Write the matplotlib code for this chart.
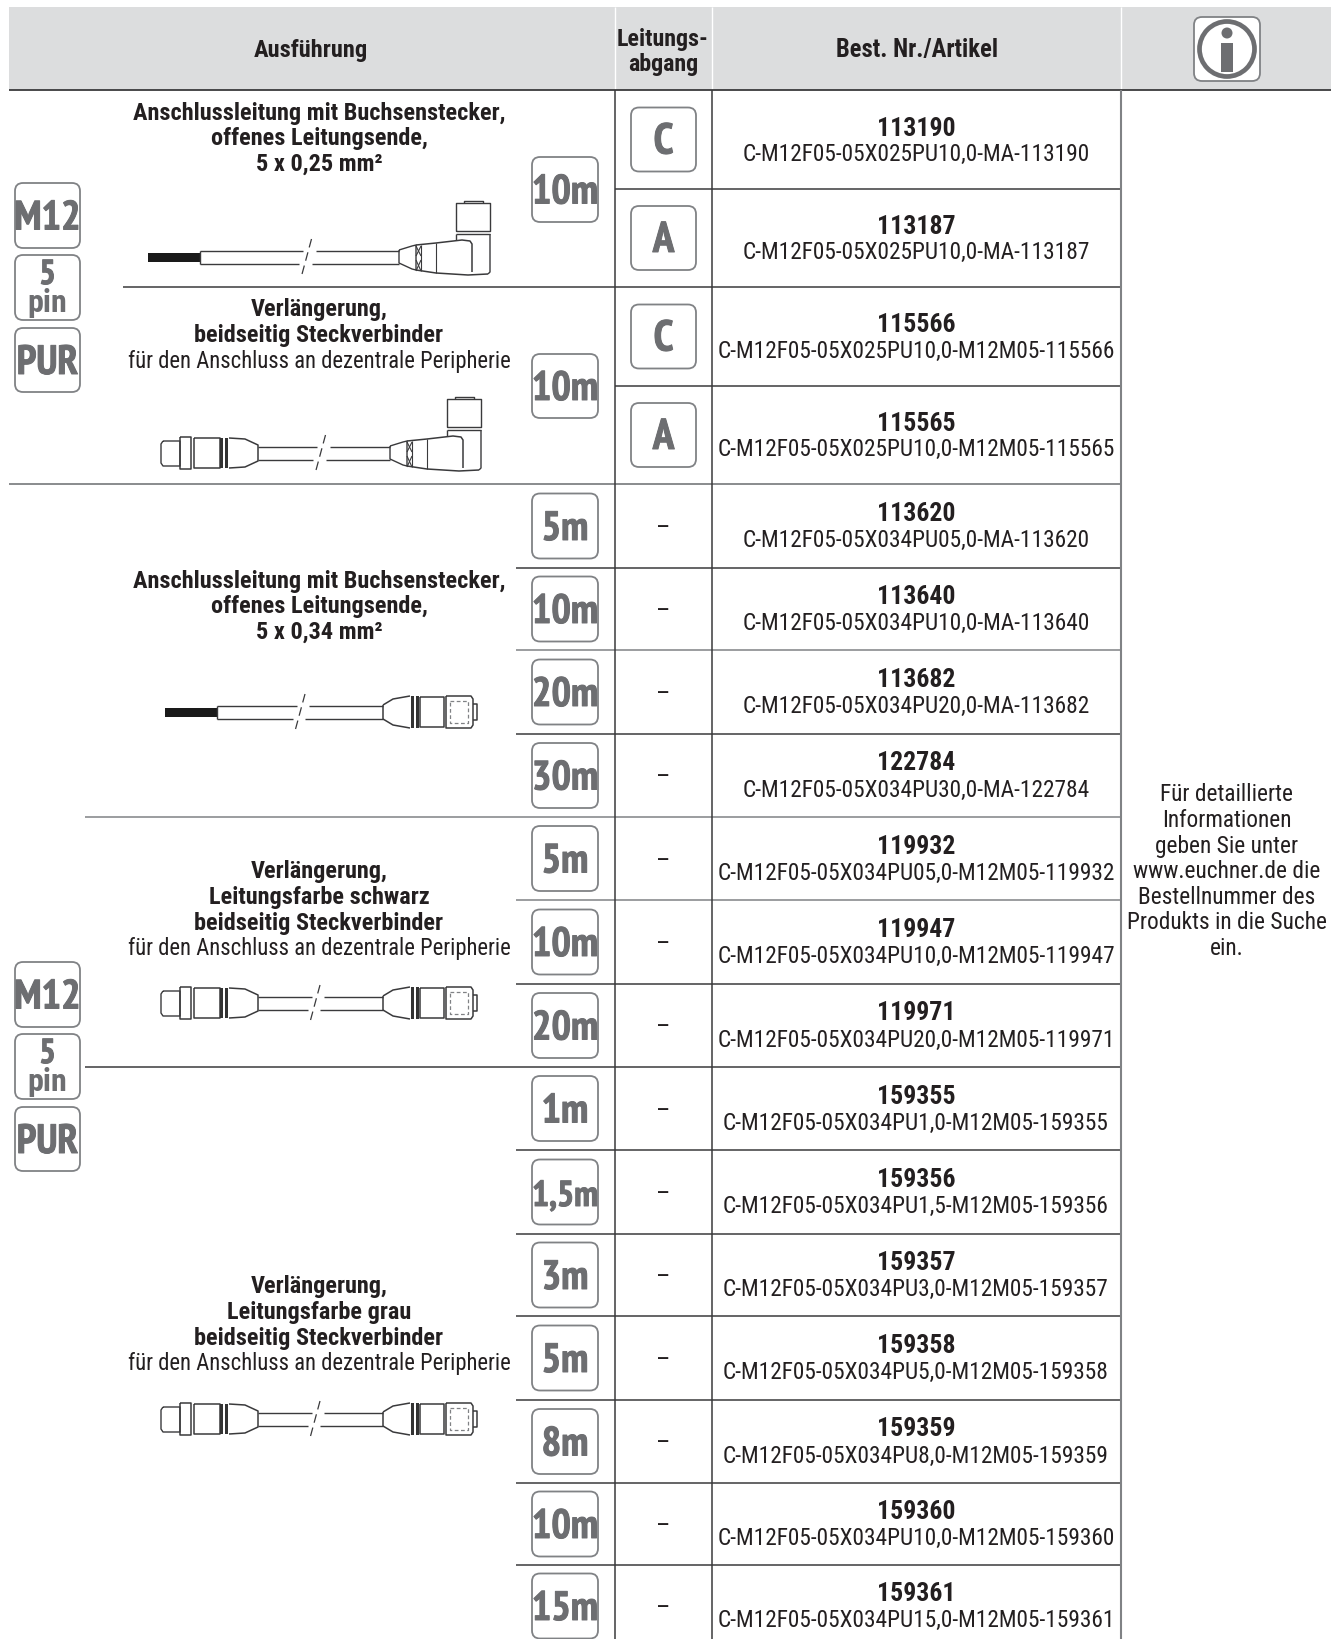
import matplotlib
matplotlib.use("Agg")
import matplotlib.pyplot as plt
import matplotlib.patheffects as pe
from matplotlib.patches import FancyBboxPatch, Circle, Rectangle

# table content
top_lengths = ["10m", "10m"]
top_outlets = ["C", "A", "C", "A"]
top_ids = ["113190", "113187", "115566", "115565"]
top_models = ["C-M12F05-05X025PU10,0-MA-113190", "C-M12F05-05X025PU10,0-MA-113187",
              "C-M12F05-05X025PU10,0-M12M05-115566", "C-M12F05-05X025PU10,0-M12M05-115565"]
low_lengths = ["5m", "10m", "20m", "30m", "5m", "10m", "20m",
               "1m", "1,5m", "3m", "5m", "8m", "10m", "15m"]
low_ids = ["113620", "113640", "113682", "122784", "119932", "119947", "119971",
           "159355", "159356", "159357", "159358", "159359", "159360", "159361"]
low_models = ["C-M12F05-05X034PU05,0-MA-113620", "C-M12F05-05X034PU10,0-MA-113640",
              "C-M12F05-05X034PU20,0-MA-113682", "C-M12F05-05X034PU30,0-MA-122784",
              "C-M12F05-05X034PU05,0-M12M05-119932", "C-M12F05-05X034PU10,0-M12M05-119947",
              "C-M12F05-05X034PU20,0-M12M05-119971", "C-M12F05-05X034PU1,0-M12M05-159355",
              "C-M12F05-05X034PU1,5-M12M05-159356", "C-M12F05-05X034PU3,0-M12M05-159357",
              "C-M12F05-05X034PU5,0-M12M05-159358", "C-M12F05-05X034PU8,0-M12M05-159359",
              "C-M12F05-05X034PU10,0-M12M05-159360", "C-M12F05-05X034PU15,0-M12M05-159361"]
info_lines = ["Für detaillierte", "Informationen", "geben Sie unter", "www.euchner.de die",
              "Bestellnummer des", "Produkts in die Suche", "ein."]
desc1 = ["Anschlussleitung mit Buchsenstecker,", "offenes Leitungsende,", "5 x 0,25 mm²"]
desc2 = ["Verlängerung,", "beidseitig Steckverbinder"]
desc3 = ["Anschlussleitung mit Buchsenstecker,", "offenes Leitungsende,", "5 x 0,34 mm²"]
desc4 = ["Verlängerung,", "Leitungsfarbe schwarz", "beidseitig Steckverbinder"]
desc5 = ["Verlängerung,", "Leitungsfarbe grau", "beidseitig Steckverbinder"]
periphery = "für den Anschluss an dezentrale Peripherie"

# layout in reference pixels
top_rows = [90, 189, 287, 386, 484]
low_rows = [484, 568, 650, 734, 817, 900, 984, 1067, 1150, 1234, 1316, 1400, 1483, 1565, 1649]

GREY = "#6d6e71"
EDGE = "#808285"
DARK = "#3a3a3c"
INK = "#231f20"
FONT = ["Roboto Condensed", "Liberation Sans", "DejaVu Sans"]
BADGE_FONT = ["PT Sans Narrow", "Roboto Condensed", "Liberation Sans"]
FAT = [pe.withStroke(linewidth=0.7, foreground=GREY)]

fig = plt.figure(figsize=(13.31, 16.39), dpi=100)
ax = fig.add_axes([0, 0, 1, 1])
ax.set_xlim(0, 1331)
ax.set_ylim(1639, 0)
ax.axis("off")


def seg(xs, ys, lw=1.0, c=DARK, **kw):
    ax.plot(xs, ys, color=c, lw=lw, solid_capstyle="butt", zorder=3, **kw)


def txt(x, y, s, size=16.8, bold=False):
    # y is the baseline
    ax.text(x, y, s, family=FONT, fontsize=size, fontweight="bold" if bold else "normal",
            color=INK, ha="center", va="baseline", zorder=5)


def badge(x0, y0, x1, y1, label=None, size=29.5):
    ax.add_patch(FancyBboxPatch((x0 + 1, y0 + 1), x1 - x0 - 2, y1 - y0 - 2,
                                boxstyle="round,pad=0,rounding_size=8",
                                fc="white", ec=EDGE, lw=1.3, zorder=4))
    if label:
        ax.text((x0 + x1) / 2, (y0 + y1) / 2 + 14, label, family=BADGE_FONT, fontsize=size,
                fontweight="bold", color=GREY, ha="center", va="baseline", zorder=5,
                path_effects=FAT)


def side_badges(y0):
    badge(14, y0, 81, y0 + 67, "M12", 29.5)
    badge(14, y0 + 72, 81, y0 + 139)
    ax.text(47.5, y0 + 102, "5", family=BADGE_FONT, fontsize=25, fontweight="bold", color=GREY,
            ha="center", va="baseline", zorder=5, path_effects=FAT)
    ax.text(47.5, y0 + 130, "pin", family=FONT, fontsize=23, fontweight="bold", color=GREY,
            ha="center", va="baseline", zorder=5)
    badge(14, y0 + 145, 81, y0 + 211, "PUR", 29.5)


def cable(x0, x1, x2, x3, y):
    # two wire outlines with a gap for the break mark
    seg([x0, x1 + 4], [y - 6.5, y - 6.5])
    seg([x0, x1], [y + 6.5, y + 6.5])
    seg([x2 + 4, x3], [y - 6.5, y - 6.5])
    seg([x2, x3], [y + 6.5, y + 6.5])
    xm = (x1 + x2) / 2 + 1
    ax.plot([xm + 5, xm - 5], [y - 18, y + 19], color=DARK, lw=0.9, ls=(0, (7, 4)), zorder=3)


def open_end(x0, y):
    ax.add_patch(Rectangle((x0, y - 4.5), 52, 9.5, fc="#1a1a1a", ec="none", zorder=3))
    seg([x0 + 52, x0 + 52], [y - 6.5, y + 6.5])


def plug_left(y):
    seg([163, 180, 180, 163, 161, 161, 163], [y - 12, y - 12, y + 13, y + 13, y + 10, y - 9, y - 12])
    seg([180, 191, 191, 180, 180], [y - 16, y - 16, y + 16, y + 16, y - 16], lw=1.1)
    seg([194, 220, 220, 194, 194], [y - 15, y - 15, y + 15, y + 15, y - 15], lw=1.1)
    ax.add_patch(Rectangle((220, y - 15), 3, 30, fc="#333333", ec="none", zorder=3))
    ax.add_patch(Rectangle((225, y - 15), 3, 30, fc="#333333", ec="none", zorder=3))
    seg([229, 245, 258, 258, 245, 229], [y - 15, y - 14, y - 8, y + 8, y + 14, y + 15], lw=1.1)


def socket_right(y, x0):
    seg([x0, x0 + 10, x0 + 27], [y - 7, y - 13, y - 16], lw=1.1)
    seg([x0, x0 + 10, x0 + 27], [y + 7, y + 13, y + 16], lw=1.1)
    seg([x0, x0], [y - 7, y + 7], lw=1.1)
    ax.add_patch(Rectangle((x0 + 28, y - 16), 3, 32, fc="#333333", ec="none", zorder=3))
    ax.add_patch(Rectangle((x0 + 33, y - 16), 3, 32, fc="#333333", ec="none", zorder=3))
    seg([x0 + 37, x0 + 61, x0 + 61, x0 + 37, x0 + 37], [y - 15, y - 15, y + 15, y + 15, y - 15], lw=1.1)
    seg([x0 + 63, x0 + 88, x0 + 90, x0 + 90, x0 + 88, x0 + 63, x0 + 63],
        [y - 16, y - 16, y - 13, y + 13, y + 16, y + 16, y - 16], lw=1.1)
    ax.plot([x0 + 67, x0 + 85, x0 + 85, x0 + 67, x0 + 67], [y - 11, y - 11, y + 11, y + 11, y - 11],
            color=EDGE, lw=0.9, ls=(0, (3, 2)), zorder=3)
    seg([x0 + 90, x0 + 94, x0 + 94, x0 + 90], [y - 8, y - 8, y + 8, y + 8], lw=1.1)


def elbow(dx, dy):
    X = lambda v: [a + dx for a in v]
    Y = lambda v: [a + dy for a in v]
    seg(X([399, 412, 416, 416, 412, 399, 399]), Y([250, 246, 245, 270, 269, 263, 250]), lw=1.0)
    seg(X([416, 421]), Y([246, 256]), lw=0.8)
    seg(X([421, 416]), Y([246, 256]), lw=0.8)
    seg(X([416, 421]), Y([260, 271]), lw=0.8)
    seg(X([421, 416]), Y([260, 271]), lw=0.8)
    seg(X([421, 421]), Y([245, 271]), lw=0.8)
    seg(X([416, 436, 462, 470, 472, 472]), Y([245, 243, 240, 241, 244, 272]), lw=1.1)
    seg(X([416, 436, 468, 488]), Y([270, 273, 275, 274]), lw=1.1)
    seg(X([436, 436]), Y([243, 273]), lw=0.8)
    seg(X([456, 456, 490, 490, 456]), Y([231, 203, 203, 231, 231]), lw=1.0)
    seg(X([456, 490]), Y([234, 234]), lw=1.0)
    seg(X([456, 456]), Y([234, 240]), lw=1.0)
    seg(X([490, 490, 488]), Y([234, 272, 274]), lw=1.0)
    seg(X([464, 464, 483, 483]), Y([203, 201, 201, 203]), lw=1.0)


# header
ax.add_patch(Rectangle((9, 7), 1322, 83, fc="#dcddde", ec="none", zorder=1))
for x in [615, 712, 1121]:
    seg([x, x], [7, 90], lw=1.0, c="white")
seg([9, 1331], [90, 90], lw=1.3, c=DARK)
txt(311, 57, "Ausführung", 17.6, True)
txt(663, 46, "Leitungs-", 17.3, True)
txt(663, 71, "abgang", 17.3, True)
txt(917, 57, "Best. Nr./Artikel", 17.7, True)

# info icon
badge(1193, 16, 1261, 82)
ax.add_patch(Circle((1227, 49), 27.5, fc="white", ec=GREY, lw=3.4, zorder=5))
ax.add_patch(Circle((1227, 33), 5.5, fc=GREY, ec="none", zorder=6))
ax.add_patch(Rectangle((1221, 43), 12, 29, fc=GREY, ec="none", zorder=6))

# grid lines
for y in top_rows[1:-1]:
    x0 = 123 if y == 287 else 615
    seg([x0, 1121], [y, y], lw=1.1)
seg([9, 1121], [484, 484], lw=1.3, c=EDGE)
for y in low_rows[1:-1]:
    x0 = 85 if y in (817, 1067) else 516
    seg([x0, 1121], [y, y], lw=1.1, c=EDGE if y in (650, 817, 900) else DARK)
seg([615, 615], [90, 1639], lw=1.1)
seg([712, 712], [90, 1639], lw=1.1)
seg([1121, 1121], [90, 1639], lw=1.5, c=EDGE)

# side badges
side_badges(182)
side_badges(961)

# description blocks
for y, s in zip([120, 145, 171], desc1):
    txt(319, y, s, 17.5, True)
for y, s in zip([316, 342], desc2):
    txt(319, y, s, 17.5, True)
txt(319, 368, periphery, 16.3)
for y, s in zip([588, 613, 639], desc3):
    txt(319, y, s, 17.5, True)
for y, s in zip([878, 904, 930], desc4):
    txt(319, y, s, 17.5, True)
txt(319, 955, periphery, 16.3)
for y, s in zip([1293, 1319, 1345], desc5):
    txt(319, y, s, 17.5, True)
txt(319, 1370, periphery, 16.3)

# cable drawings
open_end(148, 257)
cable(200, 299, 312, 399, 257)
elbow(0, 0)

plug_left(453)
cable(258, 313, 326, 390, 453)
elbow(-9, 196)

open_end(165, 712)
cable(217, 293, 305, 383, 712)
socket_right(712, 383)

plug_left(1003)
cable(258, 308, 320, 383, 1003)
socket_right(1003, 383)

plug_left(1419)
cable(258, 308, 320, 383, 1419)
socket_right(1419, 383)

# top rows
for i in range(4):
    t, b = top_rows[i], top_rows[i + 1]
    c = (t + b) / 2
    badge(630, c - 33, 697, c + 33, top_outlets[i], 31)
    txt(916, c - 4, top_ids[i], 18.5, True)
    txt(916, c + 21, top_models[i])
badge(531, 156, 599, 223, top_lengths[0])
badge(531, 353, 599, 419, top_lengths[1])

# lower rows
for i in range(len(low_ids)):
    c = (low_rows[i] + low_rows[i + 1]) / 2
    if i == len(low_ids) - 1:
        c = 1606
    badge(531, c - 33.5, 599, c + 33.5, low_lengths[i], 26 if "," in low_lengths[i] else 29.5)
    txt(663, c + 9, "–", 18)
    txt(916, c - 5, low_ids[i], 18.5, True)
    txt(916, c + 21, low_models[i])

# info text
for y, s in zip([801, 827, 853, 878, 904, 929, 955], info_lines):
    txt(1227, y, s)

fig.savefig("out.png", dpi=100)
